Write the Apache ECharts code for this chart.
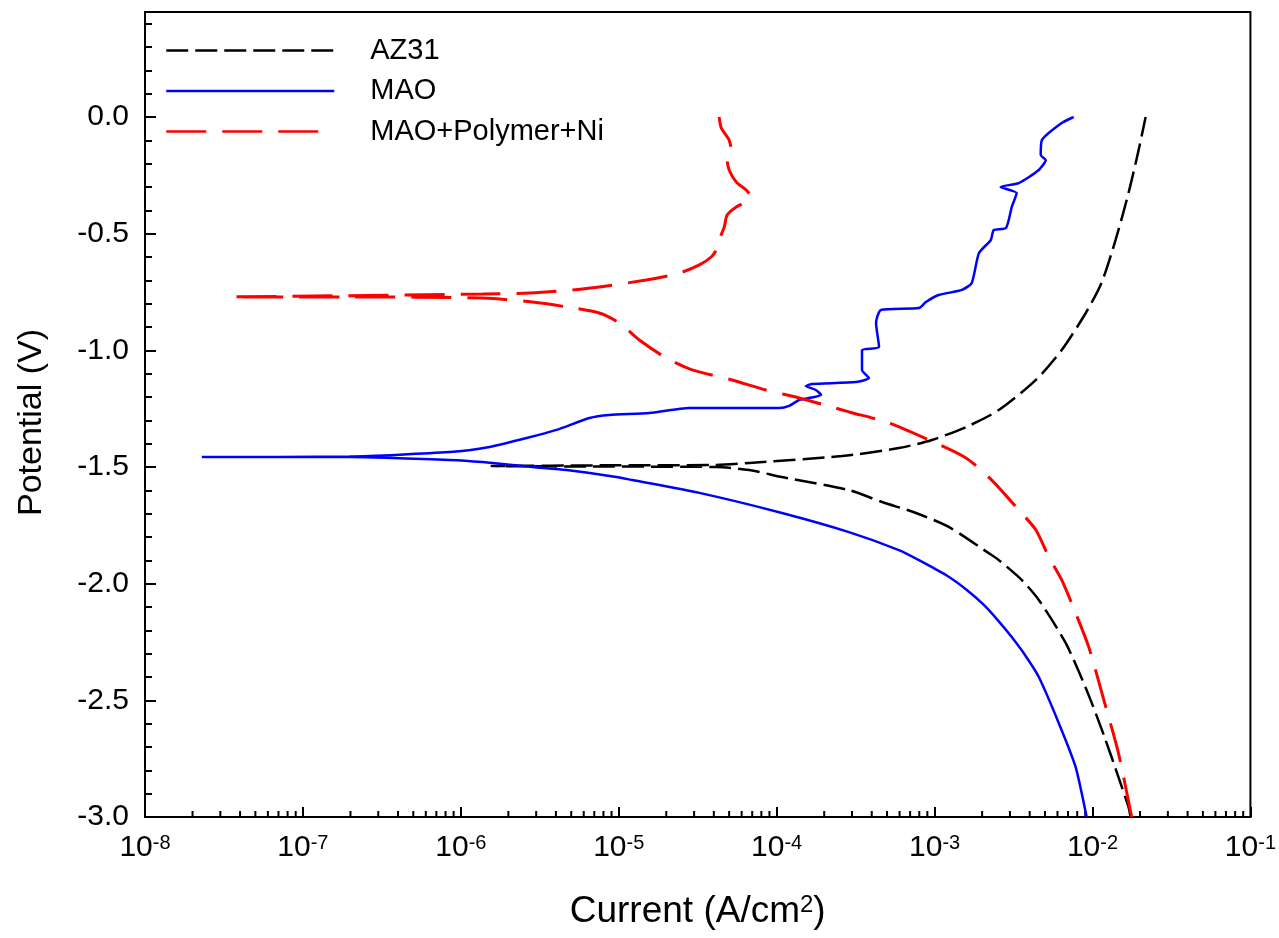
<!DOCTYPE html>
<html>
<head>
<meta charset="utf-8">
<title>Potentiodynamic polarization</title>
<script src="https://cdn.jsdelivr.net/npm/echarts@6/dist/echarts.min.js"></script>
<style>
  html, body { margin: 0; padding: 0; background: #fff; }
  #chart { width: 1279px; height: 938px; }
</style>
</head>
<body>
<div id="chart"></div>
<script>
// current density (A/cm2) and potential (V), in sweep order: cathodic end -> Ecorr -> anodic end
const az31Current = [1.74e-2, 1.69e-2, 1.46e-2, 1.21e-2, 9.89e-3, 8.80e-3, 6.76e-3, 4.57e-3, 3.56e-3, 2.55e-3, 2.20e-3, 1.23e-3, 7.62e-4, 4.65e-4, 2.87e-4, 1.08e-4, 6.70e-5, 4.14e-5, 7.53e-6, 1.56e-6, 7.53e-6, 4.14e-5, 6.70e-5, 2.59e-4, 5.94e-4, 9.62e-4, 1.58e-3, 2.55e-3, 4.38e-3, 6.38e-3, 9.06e-3, 1.14e-2, 1.40e-2, 1.69e-2, 1.96e-2, 2.17e-2]
const az31Potential = [-3.000, -2.957, -2.829, -2.670, -2.511, -2.426, -2.254, -2.070, -1.984, -1.899, -1.869, -1.757, -1.697, -1.650, -1.599, -1.543, -1.513, -1.500, -1.498, -1.496, -1.493, -1.491, -1.483, -1.453, -1.419, -1.384, -1.329, -1.256, -1.127, -0.999, -0.840, -0.711, -0.527, -0.326, -0.141, 0.000]

const maoCurrent = [9.18e-3, 7.82e-3, 6.11e-3, 4.57e-3, 3.80e-3, 3.08e-3, 2.51e-3, 2.05e-3, 1.60e-3, 1.18e-3, 7.96e-4, 5.94e-4, 2.87e-4, 1.08e-4, 3.24e-5, 1.22e-5, 9.66e-6, 4.67e-6, 2.84e-6, 1.37e-6, 8.49e-7, 1.98e-7, 2.29e-8, 1.98e-7, 8.49e-7, 1.52e-6, 2.61e-6, 4.03e-6, 6.52e-6, 8.71e-6, 1.56e-5, 2.79e-5, 1.04e-4, 1.20e-4, 1.39e-4, 1.91e-4, 1.77e-4, 1.53e-4, 1.68e-4, 3.18e-4, 3.84e-4, 3.47e-4, 3.47e-4, 4.45e-4, 4.26e-4, 4.57e-4, 7.96e-4, 8.81e-4, 1.06e-3, 1.49e-3, 1.72e-3, 1.91e-3, 2.27e-3, 2.37e-3, 2.83e-3, 3.08e-3, 3.31e-3, 2.62e-3, 3.41e-3, 4.57e-3, 5.06e-3, 4.70e-3, 4.78e-3, 6.38e-3, 7.60e-3]
const maoPotential = [-3.000, -2.786, -2.597, -2.400, -2.313, -2.229, -2.156, -2.091, -2.027, -1.963, -1.899, -1.856, -1.779, -1.697, -1.611, -1.556, -1.543, -1.513, -1.500, -1.479, -1.470, -1.457, -1.457, -1.455, -1.436, -1.414, -1.376, -1.341, -1.290, -1.277, -1.269, -1.247, -1.247, -1.238, -1.213, -1.191, -1.170, -1.153, -1.144, -1.136, -1.119, -1.084, -0.999, -0.986, -0.883, -0.827, -0.819, -0.793, -0.763, -0.741, -0.711, -0.583, -0.527, -0.484, -0.476, -0.386, -0.326, -0.300, -0.283, -0.227, -0.184, -0.163, -0.099, -0.026, 0.000]

const niCurrent = [1.77e-2, 1.46e-2, 1.18e-2, 9.46e-3, 7.82e-3, 6.38e-3, 5.29e-3, 4.38e-3, 3.41e-3, 2.30e-3, 1.58e-3, 9.20e-4, 5.14e-4, 2.87e-4, 2.24e-4, 1.39e-4, 8.57e-5, 5.22e-5, 2.92e-5, 2.00e-5, 1.35e-5, 1.01e-5, 7.53e-6, 4.67e-6, 2.84e-6, 1.37e-6, 1.98e-7, 3.55e-8, 1.37e-6, 2.72e-6, 5.89e-6, 1.49e-5, 2.42e-5, 3.24e-5, 3.85e-5, 4.14e-5, 4.32e-5, 4.66e-5, 4.86e-5, 5.55e-5, 6.41e-5, 6.89e-5, 6.41e-5, 5.55e-5, 5.00e-5, 4.86e-5, 5.15e-5, 5.00e-5, 4.46e-5, 4.32e-5]
const niPotential = [-3.000, -2.726, -2.499, -2.271, -2.126, -1.984, -1.886, -1.770, -1.684, -1.556, -1.461, -1.384, -1.311, -1.264, -1.243, -1.204, -1.170, -1.127, -1.084, -1.033, -0.956, -0.883, -0.840, -0.814, -0.793, -0.776, -0.771, -0.771, -0.759, -0.754, -0.737, -0.699, -0.669, -0.634, -0.600, -0.570, -0.527, -0.471, -0.420, -0.386, -0.364, -0.343, -0.313, -0.279, -0.227, -0.184, -0.141, -0.099, -0.047, 0.000]

const seriesNames = ['AZ31', 'MAO', 'MAO+Polymer+Ni']

const FONT = '"Liberation Sans", Arial, sans-serif'

function zip(xs, ys) {
  return xs.map((x, i) => [x, ys[i]])
}

// log minor ticks along the bottom axis (2..9 in each decade)
const minorTickValues = []
for (let e = -8; e < -1; e++) {
  for (let k = 2; k < 10; k++) {
    minorTickValues.push([k * Math.pow(10, e), -3])
  }
}

const chart = echarts.init(document.getElementById('chart'))

const option = {
  animation: false,
  backgroundColor: '#fff',
  grid: {
    left: 145, right: 27, top: 12, bottom: 121,
    show: true, borderColor: '#000', borderWidth: 2
  },
  legend: {
    orient: 'vertical',
    left: 160,
    top: 31,
    itemWidth: 168,
    itemHeight: 28,
    itemGap: 11.5,
    data: seriesNames,
    itemStyle: { opacity: 0 },
    lineStyle: { width: 2.5 },
    textStyle: { fontSize: 29, fontFamily: FONT, color: '#000', padding: [0, 0, 0, 31] }
  },
  xAxis: {
    type: 'log',
    logBase: 10,
    min: 1e-8,
    max: 1e-1,
    splitNumber: 7,
    name: '{a|Current (A/cm}{s|2}{a|)}',
    nameLocation: 'middle',
    nameGap: 76,
    nameTextStyle: {
      rich: {
        a: { fontSize: 37, fontFamily: FONT, color: '#000' },
        s: { fontSize: 24, fontFamily: FONT, color: '#000', verticalAlign: 'top' }
      }
    },
    axisLine: { onZero: false, lineStyle: { color: '#000', width: 2 } },
    axisTick: { inside: true, length: 10, lineStyle: { color: '#000', width: 2 } },
    splitLine: { show: false },
    minorTick: { show: false },
    axisLabel: {
      margin: 16,
      formatter: v => '{b|10}{s|' + Math.round(Math.log10(v)) + '}',
      rich: {
        b: { fontSize: 30, fontFamily: FONT, color: '#000' },
        s: { fontSize: 20, fontFamily: FONT, color: '#000', verticalAlign: 'top' }
      }
    }
  },
  yAxis: [
    {
      type: 'value',
      position: 'left',
      min: -3,
      max: 0.45,
      interval: 0.5,
      name: 'Potential (V)',
      nameLocation: 'middle',
      nameGap: 96,
      nameTextStyle: { fontSize: 34, fontFamily: FONT, color: '#000', padding: [0, 16, 0, 0] },
      axisLine: { show: true, onZero: false, lineStyle: { color: '#000', width: 2 } },
      axisTick: { show: true, inside: true, length: 11, lineStyle: { color: '#000', width: 2 } },
      splitLine: { show: false },
      axisLabel: {
        margin: 16,
        fontSize: 30,
        fontFamily: FONT,
        color: '#000',
        formatter: v => (v > 0.01 ? '' : v.toFixed(1))
      }
    },
    {
      type: 'value',
      position: 'left',
      min: -3,
      max: 0.45,
      interval: 0.1,
      axisLine: { show: false, onZero: false },
      axisTick: { show: true, inside: true, length: 7, lineStyle: { color: '#000', width: 2 } },
      axisLabel: { show: false },
      splitLine: { show: false }
    }
  ],
  series: [
    {
      type: 'custom',
      silent: true,
      z: 1,
      data: minorTickValues,
      renderItem: (params, api) => {
        const p = api.coord([api.value(0), api.value(1)])
        return {
          type: 'line',
          shape: { x1: p[0], y1: p[1], x2: p[0], y2: p[1] - 6 },
          style: { stroke: '#000', lineWidth: 2 }
        }
      }
    },
    {
      name: seriesNames[0],
      type: 'line',
      symbol: 'none',
      smooth: 0.25,
      data: zip(az31Current, az31Potential),
      lineStyle: { color: '#000', width: 2.5, type: [22, 7] },
      itemStyle: { color: '#000' }
    },
    {
      name: seriesNames[1],
      type: 'line',
      symbol: 'none',
      smooth: 0.2,
      data: zip(maoCurrent, maoPotential),
      lineStyle: { color: '#0000ff', width: 2.5, type: 'solid' },
      itemStyle: { color: '#0000ff' }
    },
    {
      name: seriesNames[2],
      type: 'line',
      symbol: 'none',
      smooth: 0.25,
      data: zip(niCurrent, niPotential),
      lineStyle: { color: '#ff0000', width: 3, type: [40, 16] },
      itemStyle: { color: '#ff0000' }
    }
  ]
}

chart.setOption(option)
</script>
</body>
</html>
